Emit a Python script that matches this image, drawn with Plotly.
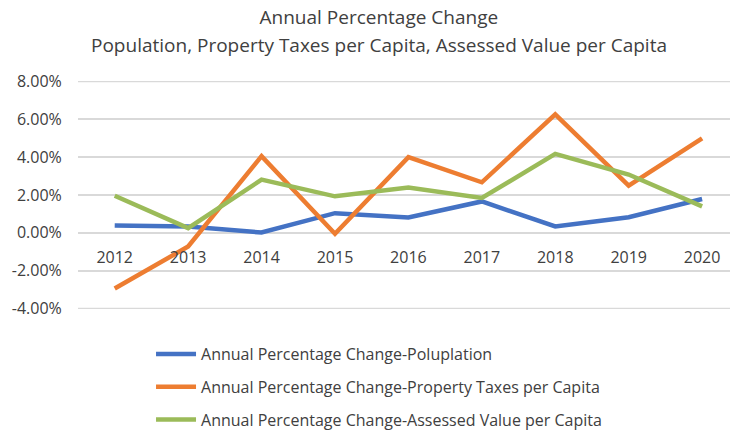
import plotly.graph_objects as go

years = ["2012", "2013", "2014", "2015", "2016", "2017", "2018", "2019", "2020"]
population = [0.0039, 0.0033, 0.0002, 0.0104, 0.0081, 0.0166, 0.0034, 0.0083, 0.0179]
property_taxes = [-0.0294, -0.0072, 0.0405, -0.0005, 0.0400, 0.0267, 0.0626, 0.0249, 0.0499]
assessed_value = [0.0196, 0.0025, 0.0281, 0.0193, 0.0240, 0.0184, 0.0417, 0.0308, 0.0140]

y_tick_values = [-0.04, -0.02, 0.0, 0.02, 0.04, 0.06, 0.08]
y_tick_labels = ["-4.00%", "-2.00%", "0.00%", "2.00%", "4.00%", "6.00%", "8.00%"]

series_names = [
    "Annual Percentage Change-Poluplation",
    "Annual Percentage Change-Property Taxes per Capita",
    "Annual Percentage Change-Assessed Value per Capita",
]
series_values = [population, property_taxes, assessed_value]
colors = ["#4472C4", "#ED7D31", "#9BBB59"]

title_line1 = "Annual Percentage Change"
title_line2 = "Population, Property Taxes per Capita, Assessed Value per Capita"

FONT = "Open Sans"
TEXT = "#404040"
GRID = "#D9D9D9"

Y_MIN, Y_MAX = -0.0402, 0.0802

fig = go.Figure()
for i, (name, vals, col) in enumerate(zip(series_names, series_values, colors)):
    fig.add_trace(go.Scatter(
        x=list(range(len(years))), y=vals, name=name, mode="lines",
        line=dict(color=col, width=4.5), legendgroup=str(i),
    ))

# outer gridlines (Plotly drops gridlines that sit on the plot edge)
edge_lines = [
    dict(type="line", xref="paper", x0=0, x1=1, yref="y", y0=v, y1=v,
         line=dict(color=GRID, width=1.5), layer="below")
    for v in (y_tick_values[0], y_tick_values[-1])
]

fig.update_layout(
    width=730, height=434,
    paper_bgcolor="white", plot_bgcolor="white",
    margin=dict(l=78, r=0, t=81, b=125, autoexpand=False),
    title=dict(
        text=title_line1,
        x=0.519, xanchor="center", y=0.961, yanchor="middle",
        font=dict(family=FONT, size=19, color=TEXT),
    ),
    font=dict(family=FONT, size=16, color=TEXT),
    xaxis=dict(
        tickmode="array", tickvals=list(range(len(years))), ticktext=years,
        range=[-0.5, 8.38], showgrid=False, zeroline=False, showline=False,
        anchor="free", position=(0 - Y_MIN) / (Y_MAX - Y_MIN),
        ticks="outside", ticklen=10, tickcolor="rgba(0,0,0,0)",
        tickfont=dict(family=FONT, size=16, color=TEXT),
    ),
    yaxis=dict(
        range=[Y_MIN, Y_MAX], tickmode="array",
        tickvals=y_tick_values, ticktext=y_tick_labels,
        showgrid=True, gridcolor=GRID, gridwidth=1.5,
        zeroline=True, zerolinecolor=GRID, zerolinewidth=1.5,
        ticks="outside", ticklen=12, tickcolor="rgba(0,0,0,0)",
        tickfont=dict(family=FONT, size=16, color=TEXT),
    ),
    legend=dict(
        x=0.112, xanchor="left", y=-0.123, yanchor="top",
        orientation="v", tracegroupgap=9,
        font=dict(family=FONT, size=16, color=TEXT),
        itemwidth=40,
    ),
    showlegend=True,
    shapes=edge_lines,
    annotations=[dict(
        text=title_line2, xref="paper", yref="paper",
        x=0.4617, y=1.1579, xanchor="center", yanchor="middle",
        showarrow=False, font=dict(family=FONT, size=19, color=TEXT),
    )],
)

fig.write_html(
    "out.html",
    config={"displayModeBar": False},
    post_script="document.body.style.margin='0';",
)
